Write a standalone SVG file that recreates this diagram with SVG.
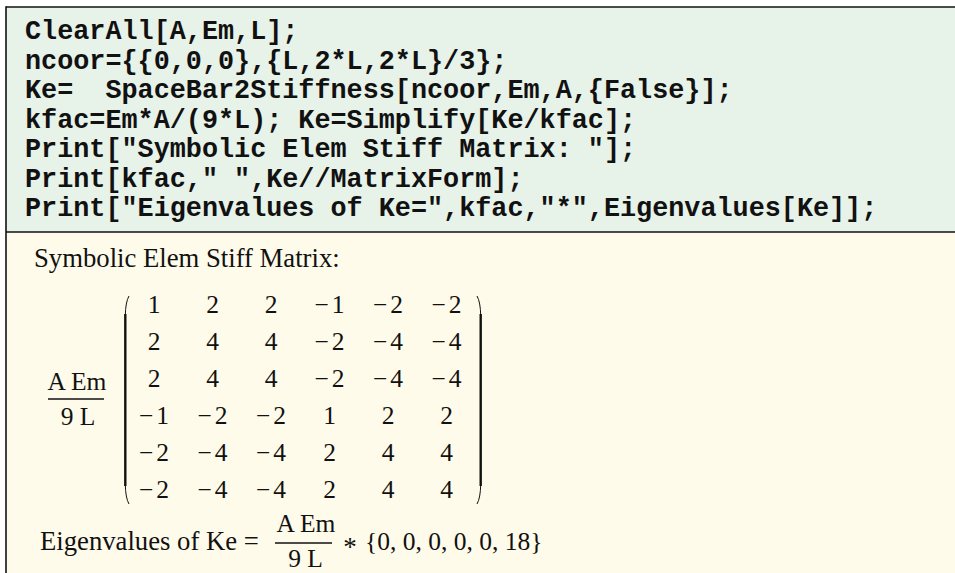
<svg xmlns="http://www.w3.org/2000/svg" width="955" height="573" viewBox="0 0 955 573">
<style>
.code{font-family:"Liberation Mono","DejaVu Sans Mono",monospace;font-weight:bold;font-size:26.8px;fill:#111}
.txt{font-family:"Liberation Serif","DejaVu Serif",serif;font-size:26.7px;fill:#111}
.m{font-family:"Liberation Serif","DejaVu Serif",serif;font-size:25.5px;fill:#111;text-anchor:middle}
.rule{stroke:#111;stroke-width:1.6;fill:none}
.fl{stroke:#111;stroke-width:1.3}
.pe{stroke:#111;stroke-width:1;fill:none}
.pm{stroke:#111;stroke-width:2.4}
</style>
<rect x="0" y="0" width="955" height="573" fill="#ffffff"/>
<g id="code-cell">
<rect x="6" y="7" width="949" height="225" fill="#e7f2e9"/>
<text class="code" xml:space="preserve" x="25" y="39">ClearAll[A,Em,L];</text>
<text class="code" xml:space="preserve" x="25" y="68.5">ncoor={{0,0,0},{L,2*L,2*L}/3};</text>
<text class="code" xml:space="preserve" x="25" y="98">Ke=  SpaceBar2Stiffness[ncoor,Em,A,{False}];</text>
<text class="code" xml:space="preserve" x="25" y="127.5">kfac=Em*A/(9*L); Ke=Simplify[Ke/kfac];</text>
<text class="code" xml:space="preserve" x="25" y="157">Print["Symbolic Elem Stiff Matrix: "];</text>
<text class="code" xml:space="preserve" x="25" y="186.5">Print[kfac," ",Ke//MatrixForm];</text>
<text class="code" xml:space="preserve" x="25" y="216">Print["Eigenvalues of Ke=",kfac,"*",Eigenvalues[Ke]];</text>
</g>
<g id="output-cell">
<rect x="6" y="232" width="949" height="341" fill="#fffbea"/>
<text class="txt" x="34" y="267">Symbolic Elem Stiff Matrix:</text>
<g id="kfac-fraction">
<text class="m" x="77" y="390">A Em</text>
<line class="fl" x1="48" y1="399" x2="104" y2="399"/>
<text class="m" x="78" y="425">9 L</text>
</g>
<g id="matrix">
<path class="pe" d="M129,296 Q125.5,302 125.3,316"/>
<line class="pm" x1="125.3" y1="314" x2="125.3" y2="486"/>
<path class="pe" d="M125.3,484 Q125.5,498 129,504"/>
<path class="pe" d="M477,296 Q480.5,302 480.7,316"/>
<line class="pm" x1="480.7" y1="314" x2="480.7" y2="486"/>
<path class="pe" d="M480.7,484 Q480.5,498 477,504"/>
<g id="row1">
<text class="m" x="154" y="313">1</text>
<text class="m" x="212.5" y="313">2</text>
<text class="m" x="271" y="313">2</text>
<text class="m" x="329.5" y="313">−<tspan dx="3">1</tspan></text>
<text class="m" x="388" y="313">−<tspan dx="3">2</tspan></text>
<text class="m" x="446.5" y="313">−<tspan dx="3">2</tspan></text>
</g>
<g id="row2">
<text class="m" x="154" y="350">2</text>
<text class="m" x="212.5" y="350">4</text>
<text class="m" x="271" y="350">4</text>
<text class="m" x="329.5" y="350">−<tspan dx="3">2</tspan></text>
<text class="m" x="388" y="350">−<tspan dx="3">4</tspan></text>
<text class="m" x="446.5" y="350">−<tspan dx="3">4</tspan></text>
</g>
<g id="row3">
<text class="m" x="154" y="387">2</text>
<text class="m" x="212.5" y="387">4</text>
<text class="m" x="271" y="387">4</text>
<text class="m" x="329.5" y="387">−<tspan dx="3">2</tspan></text>
<text class="m" x="388" y="387">−<tspan dx="3">4</tspan></text>
<text class="m" x="446.5" y="387">−<tspan dx="3">4</tspan></text>
</g>
<g id="row4">
<text class="m" x="154" y="424">−<tspan dx="3">1</tspan></text>
<text class="m" x="212.5" y="424">−<tspan dx="3">2</tspan></text>
<text class="m" x="271" y="424">−<tspan dx="3">2</tspan></text>
<text class="m" x="329.5" y="424">1</text>
<text class="m" x="388" y="424">2</text>
<text class="m" x="446.5" y="424">2</text>
</g>
<g id="row5">
<text class="m" x="154" y="461">−<tspan dx="3">2</tspan></text>
<text class="m" x="212.5" y="461">−<tspan dx="3">4</tspan></text>
<text class="m" x="271" y="461">−<tspan dx="3">4</tspan></text>
<text class="m" x="329.5" y="461">2</text>
<text class="m" x="388" y="461">4</text>
<text class="m" x="446.5" y="461">4</text>
</g>
<g id="row6">
<text class="m" x="154" y="498">−<tspan dx="3">2</tspan></text>
<text class="m" x="212.5" y="498">−<tspan dx="3">4</tspan></text>
<text class="m" x="271" y="498">−<tspan dx="3">4</tspan></text>
<text class="m" x="329.5" y="498">2</text>
<text class="m" x="388" y="498">4</text>
<text class="m" x="446.5" y="498">4</text>
</g>
</g>
<g id="eigen-line">
<text class="txt" x="40" y="550">Eigenvalues of Ke =</text>
<text class="m" x="306" y="532">A Em</text>
<line class="fl" x1="275" y1="543" x2="332" y2="543"/>
<text class="m" x="305.5" y="567">9 L</text>
<text class="m" x="350" y="556" style="font-size:27px">*</text>
<text class="m" x="365" y="550" style="text-anchor:start">{0, 0, 0, 0, 0, 18}</text>
</g>
</g>
<g id="frame">
<line class="rule" x1="6" y1="7" x2="955" y2="7"/>
<line class="rule" x1="6" y1="6.2" x2="6" y2="573"/>
<line class="rule" x1="6" y1="232" x2="955" y2="232"/>
</g>
</svg>
